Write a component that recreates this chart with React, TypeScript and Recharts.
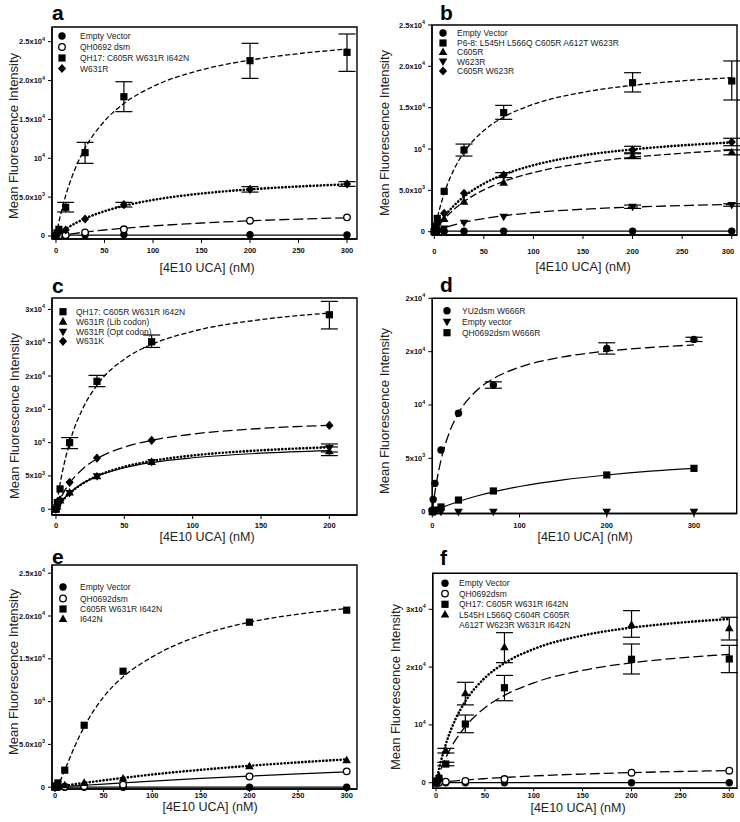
import React from 'react';
import { ComposedChart, Line, Scatter, XAxis, YAxis, ErrorBar, ReferenceArea } from 'recharts';

const FONT = '"Liberation Sans", Arial, Helvetica, sans-serif';

type Kind = 'circle' | 'open' | 'square' | 'triangle' | 'invtri' | 'diamond';
type N = number | null;

// ---------- Panel a ----------
const aConc = [0, 1, 3, 10, 30, 70, 200, 300];
const aEmpty = [0, 30, 50, 80, 120, 180, 170, 130];
const aQH0692 = [0, 40, 80, 130, 470, 860, 1970, 2400];
const aQH17 = [0, 400, 860, 3690, 10720, 17920, 22560, 23630];
const aQH17Lo: N[] = [null, null, null, 600, 1370, 1920, 2280, 2450];
const aQH17Hi: N[] = [null, null, null, 640, 1330, 1930, 2230, 2360];
const aW631R = [0, 250, 560, 770, 2190, 4030, 6000, 6690];
const aW631RErr: N[] = [null, null, null, null, null, 300, 350, 300];
const fitX = [0, 2, 5, 10, 20, 30, 50, 70, 100, 150, 200, 250, 300];
const aQH17Fit = [0, 1220, 2860, 5190, 8730, 11300, 14780, 17040, 19230, 21370, 22630, 23460, 24050];
const aW631RFit = [0, 200, 480, 910, 1640, 2250, 3190, 3880, 4640, 5460, 6000, 6370, 6650];
const aQH0692Fit = [0, 40, 95, 180, 350, 500, 770, 1000, 1290, 1670, 1950, 2170, 2350];
const aEmptyFitX = [0, 300];
const aEmptyFit = [100, 110];

// ---------- Panel b ----------
const bConc = [0, 1, 3, 10, 30, 70, 200, 300];
const bEmpty = [0, 20, 40, 60, 60, 70, 70, 70];
const bP68 = [0, 700, 1610, 4880, 9880, 14400, 18020, 18230];
const bP68Lo: N[] = [null, null, null, null, 730, 810, 1120, 2300];
const bP68Hi: N[] = [null, null, null, null, 720, 880, 1210, 2420];
const bC605R = [0, 200, 600, 1530, 3630, 5930, 9190, 9600];
const bC605RErr: N[] = [null, null, null, null, null, null, 350, 300];
const bW623R = [0, 60, 150, 400, 1090, 1810, 3020, 3230];
const bW623RErr: N[] = [null, null, null, null, null, null, 200, 150];
const bDouble = [0, 300, 900, 2220, 4640, 6850, 9880, 10850];
const bDoubleErr: N[] = [null, null, null, null, null, 300, 450, 450];
const bP68Fit = [0, 1120, 2600, 4620, 7560, 9600, 12240, 13870, 15410, 16860, 17700, 18250, 18630];
const bDoubleFit = [0, 410, 970, 1810, 3180, 4250, 5820, 6910, 8040, 9230, 9950, 10440, 10800];
const bC605RFit = [0, 340, 810, 1520, 2700, 3645, 5060, 6075, 7150, 8280, 9000, 9490, 9860];
const bW623RFit = [0, 100, 240, 455, 820, 1125, 1590, 1930, 2310, 2720, 2980, 3160, 3300];
const bEmptyFitX = [0, 300];
const bEmptyFit = [60, 70];

// ---------- Panel c ----------
const cConc = [0, 1, 3, 10, 30, 70, 200];
const cQH17 = [0, 1000, 3050, 10000, 19200, 25150, 29200];
const cQH17Lo: N[] = [null, null, null, 900, 800, 860, 2130];
const cQH17Hi: N[] = [null, null, null, 760, 900, 1010, 2010];
const cLib = [0, 400, 1300, 2500, 4950, 7100, 8700];
const cLibErr: N[] = [null, null, null, null, null, null, 650];
const cOpt = [0, 350, 1200, 2450, 4950, 7100, 9200];
const cOptErr: N[] = [null, null, null, null, null, null, 600];
const cW631K = [0, 500, 1400, 4040, 7680, 10350, 12580];
const cFitX = [0, 1, 2, 5, 10, 20, 30, 50, 70, 100, 150, 200];
const cQH17Fit = [0, 1380, 2650, 5900, 10000, 15290, 18640, 22530, 24740, 26710, 28470, 29450];
const cW631KFit = [0, 520, 1000, 2270, 3910, 6130, 7580, 9330, 10350, 11280, 12130, 12600];
const cLibFit = [0, 310, 600, 1380, 2430, 3930, 4940, 6230, 7010, 7730, 8410, 8800];
const cOptFit = [0, 300, 580, 1340, 2390, 3920, 4990, 6380, 7250, 8070, 8850, 9300];

// ---------- Panel d ----------
const dConc = [0, 1, 3, 10, 30, 70, 200, 300];
const dYU2 = [150, 1150, 2650, 5780, 9220, 11870, 15300, 16150];
const dYU2Err: N[] = [null, null, null, null, null, 300, 530, 200];
const dEmpty = [0, 0, 0, 0, 0, 0, 0, 0];
const dQH0692 = [0, 50, 150, 440, 1090, 1940, 3440, 4060];
const dYU2FitX = [0, 1, 2, 3, 5, 10, 20, 30, 50, 70, 100, 150, 200, 250, 300];
const dYU2Fit = [0, 650, 1250, 1810, 2820, 4840, 7520, 9230, 11290, 12470, 13540, 14510, 15050, 15390, 15630];
const dQHFitX = [0, 5, 10, 20, 30, 50, 70, 100, 150, 200, 250, 300];
const dQHFit = [0, 180, 355, 670, 960, 1450, 1860, 2360, 2990, 3440, 3800, 4060];

// ---------- Panel e ----------
const eConc = [0, 1, 3, 10, 30, 70, 200, 300];
const eEmpty = [0, 0, 0, 0, 0, 0, 0, 0];
const eQH0692 = [0, 10, 30, 60, 100, 300, 1250, 1850];
const eTriple = [0, 150, 500, 1990, 7240, 13550, 19280, 20680];
const eI642N = [0, 60, 120, 230, 500, 1010, 2450, 3150];
const eFitX = [0, 5, 10, 20, 30, 50, 70, 100, 150, 200, 250, 300];
const eTripleFit = [0, 700, 2000, 4700, 7050, 10550, 12890, 15220, 17760, 19280, 20210, 20870];
const eI642NFit = [0, 80, 170, 340, 500, 800, 1080, 1480, 2030, 2500, 2900, 3250];
const eQH0692Fit = [0, 40, 77, 150, 227, 370, 510, 710, 1020, 1300, 1560, 1800];
const eEmptyFitX = [0, 300];
const eEmptyFit = [10, 10];

// ---------- Panel f ----------
const fConc = [0, 1, 3, 10, 30, 70, 200, 300];
const fEmpty = [0, 0, 0, 0, 0, 0, 0, 0];
const fQH0692 = [0, 20, 50, 170, 290, 630, 1730, 2080];
const fQH17 = [0, 300, 750, 3230, 10150, 16430, 21350, 21410];
const fQH17Lo: N[] = [null, null, null, 300, 1500, 2250, 2540, 2370];
const fQH17Hi: N[] = [null, null, null, 300, 1560, 2130, 2650, 2360];
const fMulti = [0, 400, 1150, 5540, 15460, 23430, 27300, 26730];
const fMultiLo: N[] = [null, null, null, 400, 2000, 2660, 2140, 2040];
const fMultiHi: N[] = [null, null, null, 400, 1910, 2530, 2470, 1890];
const fMultiFit = [0, 1600, 3690, 6650, 11010, 14080, 18140, 20690, 23130, 25470, 26820, 27690, 28330];
const fQH17Fit = [0, 1000, 2360, 4320, 7410, 9720, 12960, 15120, 17280, 19440, 20740, 21600, 22220];
const fQH0692Fit = [0, 35, 85, 170, 320, 460, 700, 910, 1170, 1500, 1750, 1940, 2100];
const fEmptyFitX = [0, 300];
const fEmptyFit = [10, 10];

// ---------- ticks ----------
const x300Ticks = [0, 50, 100, 150, 200, 250, 300];
const x200Ticks = [0, 50, 100, 150, 200];
const dXTicks = [0, 100, 200, 300];
const y25Ticks = [0, 5000, 10000, 15000, 20000, 25000];
const y25Labels = ['0', '5.0x10^3', '10^4', '1.5x10^4', '2.0x10^4', '2.5x10^4'];
const cYTicks = [0, 5000, 10000, 15000, 20000, 25000, 30000];
const cYLabels = ['0', '5x10^3', '10^4', '2x10^4', '2x10^4', '3x10^4', '3x10^4'];
const dYTicks = [0, 5000, 10000, 15000, 20000];
const dYLabels = ['0', '5x10^3', '10^4', '2x10^4', '2x10^4'];
const fYTicks = [0, 10000, 20000, 30000];
const fYLabels = ['0', '10^4', '2x10^4', '3x10^4'];

const pts = (xs: number[], ys: number[]) => xs.map((x, i) => ({ x, y: ys[i] }));
const ptsErr = (xs: number[], ys: number[], lo?: N[], hi?: N[]) =>
  xs.map((x, i) => {
    const l = lo ? lo[i] : null;
    const h = hi ? hi[i] : l;
    return { x, y: ys[i], err: l != null ? [l, h != null ? h : l] : undefined };
  });

function Marker({ cx, cy, kind }: { cx: number; cy: number; kind: Kind }) {
  if (cx == null || cy == null) return null;
  switch (kind) {
    case 'circle':
      return <circle cx={cx} cy={cy} r={3.7} fill="#000" />;
    case 'open':
      return <circle cx={cx} cy={cy} r={3.3} fill="#fff" stroke="#000" strokeWidth={1.3} />;
    case 'square':
      return <rect x={cx - 3.6} y={cy - 3.6} width={7.2} height={7.2} fill="#000" />;
    case 'triangle':
      return <polygon points={`${cx},${cy - 4.6} ${cx + 4.3},${cy + 3} ${cx - 4.3},${cy + 3}`} fill="#000" />;
    case 'invtri':
      return <polygon points={`${cx},${cy + 4.6} ${cx + 4.3},${cy - 3} ${cx - 4.3},${cy - 3}`} fill="#000" />;
    case 'diamond':
      return <polygon points={`${cx},${cy - 4.6} ${cx + 4.1},${cy} ${cx},${cy + 4.6} ${cx - 4.1},${cy}`} fill="#000" />;
  }
  return null;
}

function SupText({ x, y, text, anchor, size = 7.5 }: { x: number; y: number; text: string; anchor: string; size?: number }) {
  const [b, e] = text.split('^');
  return (
    <text x={x} y={y} textAnchor={anchor as any} dominantBaseline="central" fontFamily={FONT} fontSize={size} fontWeight="bold" fill="#111">
      {b}
      {e ? (
        <tspan fontSize={size * 0.72} dy={-3}>
          {e}
        </tspan>
      ) : null}
    </text>
  );
}

type Dash = 'solid' | 'short' | 'medium' | 'long' | 'dot';
const dashStyle = (d: Dash) => {
  switch (d) {
    case 'solid':
      return { strokeWidth: 1.2 };
    case 'short':
      return { strokeDasharray: '5 2.5', strokeWidth: 1.3 };
    case 'medium':
      return { strokeDasharray: '7 3', strokeWidth: 1.3 };
    case 'long':
      return { strokeDasharray: '10 4', strokeWidth: 1.3 };
    case 'dot':
      return { strokeDasharray: '0.1 3.4', strokeWidth: 2.6, strokeLinecap: 'round' as const };
  }
};

interface Series {
  name: string;
  name2?: string;
  kind: Kind;
  points: { x: number; y: number; err?: number[] }[];
  fit?: { x: number; y: number }[];
  dash: Dash;
}

interface Panel {
  id: string;
  left: number;
  top: number;
  width: number;
  height: number;
  margin: { top: number; right: number; bottom: number; left: number };
  xDomain: [number, number];
  xTicks: number[];
  yDomain: [number, number];
  yTicks: number[];
  yLabels: string[];
  xTickGap: number;
  series: Series[];
  legend: { mx: number; tx: number; ys: number[] };
  letter: [number, number];
  yTitle: [number, number];
  xTitle: [number, number];
}

const panels: Panel[] = [
  {
    id: 'a', left: 0, top: 0, width: 370, height: 275,
    margin: { top: 27, right: 13, bottom: 6, left: 12 },
    xDomain: [-4.1, 310.3], xTicks: x300Ticks,
    yDomain: [-386, 26890], yTicks: y25Ticks, yLabels: y25Labels, xTickGap: 11.7,
    series: [
      { name: 'Empty Vector', kind: 'circle', points: ptsErr(aConc, aEmpty), fit: pts(aEmptyFitX, aEmptyFit), dash: 'solid' },
      { name: 'QH0692 dsm', kind: 'open', points: ptsErr(aConc, aQH0692), fit: pts(fitX, aQH0692Fit), dash: 'long' },
      { name: 'QH17: C605R W631R I642N', kind: 'square', points: ptsErr(aConc, aQH17, aQH17Lo, aQH17Hi), fit: pts(fitX, aQH17Fit), dash: 'short' },
      { name: 'W631R', kind: 'diamond', points: ptsErr(aConc, aW631R, aW631RErr), fit: pts(fitX, aW631RFit), dash: 'dot' },
    ],
    legend: { mx: 62, tx: 80, ys: [36, 47, 58, 68.5] },
    letter: [52, 20], yTitle: [13, 136], xTitle: [207, 268],
  },
  {
    id: 'b', left: 370, top: 0, width: 370, height: 275,
    margin: { top: 25, right: 3, bottom: 10, left: 22 },
    xDomain: [-2.3, 305.3], xTicks: x300Ticks,
    yDomain: [-399, 25000], yTicks: y25Ticks, yLabels: y25Labels, xTickGap: 16,
    series: [
      { name: 'Empty Vector', kind: 'circle', points: ptsErr(bConc, bEmpty), fit: pts(bEmptyFitX, bEmptyFit), dash: 'solid' },
      { name: 'P6-8: L545H L566Q C605R A612T W623R', kind: 'square', points: ptsErr(bConc, bP68, bP68Lo, bP68Hi), fit: pts(fitX, bP68Fit), dash: 'short' },
      { name: 'C605R', kind: 'triangle', points: ptsErr(bConc, bC605R, bC605RErr), fit: pts(fitX, bC605RFit), dash: 'medium' },
      { name: 'W623R', kind: 'invtri', points: ptsErr(bConc, bW623R, bW623RErr), fit: pts(fitX, bW623RFit), dash: 'long' },
      { name: 'C605R W623R', kind: 'diamond', points: ptsErr(bConc, bDouble, bDoubleErr), fit: pts(fitX, bDoubleFit), dash: 'dot' },
    ],
    legend: { mx: 443, tx: 457, ys: [33, 43, 52, 61.5, 71] },
    letter: [440, 20], yTitle: [384, 133], xTitle: [583, 267],
  },
  {
    id: 'c', left: 0, top: 270, width: 370, height: 275,
    margin: { top: 28, right: 13, bottom: 0, left: 12 },
    xDomain: [-2.9, 220.2], xTicks: x200Ticks,
    yDomain: [-865, 31715], yTicks: cYTicks, yLabels: cYLabels, xTickGap: 10.5,
    series: [
      { name: 'QH17: C605R W631R I642N', kind: 'square', points: ptsErr(cConc, cQH17, cQH17Lo, cQH17Hi), fit: pts(cFitX, cQH17Fit), dash: 'short' },
      { name: 'W631R (Lib codon)', kind: 'triangle', points: ptsErr(cConc, cLib, cLibErr), fit: pts(cFitX, cLibFit), dash: 'solid' },
      { name: 'W631R (Opt codon)', kind: 'invtri', points: ptsErr(cConc, cOpt, cOptErr), fit: pts(cFitX, cOptFit), dash: 'dot' },
      { name: 'W631K', kind: 'diamond', points: ptsErr(cConc, cW631K), fit: pts(cFitX, cW631KFit), dash: 'long' },
    ],
    legend: { mx: 63, tx: 76, ys: [311.7, 321.7, 331.7, 341.3] },
    letter: [52, 293], yTitle: [14, 416], xTitle: [207, 537],
  },
  {
    id: 'd', left: 370, top: 270, width: 370, height: 275,
    margin: { top: 28.3, right: 3.3, bottom: 1.5, left: 22.3 },
    xDomain: [0, 349], xTicks: dXTicks,
    yDomain: [-170, 20000], yTicks: dYTicks, yLabels: dYLabels, xTickGap: 11.5,
    series: [
      { name: 'YU2dsm W666R', kind: 'circle', points: ptsErr(dConc, dYU2, dYU2Err), fit: pts(dYU2FitX, dYU2Fit), dash: 'long' },
      { name: 'Empty vector', kind: 'invtri', points: ptsErr(dConc, dEmpty), dash: 'solid' },
      { name: 'QH0692dsm W666R', kind: 'square', points: ptsErr(dConc, dQH0692), fit: pts(dQHFitX, dQHFit), dash: 'solid' },
    ],
    legend: { mx: 447, tx: 462, ys: [310.7, 321.7, 332.7] },
    letter: [440, 292], yTitle: [384, 411], xTitle: [585, 537],
  },
  {
    id: 'e', left: 0, top: 540, width: 370, height: 282,
    margin: { top: 25, right: 13, bottom: 3, left: 12 },
    xDomain: [-3.1, 310.6], xTicks: x300Ticks,
    yDomain: [-210, 25960], yTicks: y25Ticks, yLabels: y25Labels, xTickGap: 6,
    series: [
      { name: 'Empty Vector', kind: 'circle', points: ptsErr(eConc, eEmpty), fit: pts(eEmptyFitX, eEmptyFit), dash: 'solid' },
      { name: 'QH0692dsm', kind: 'open', points: ptsErr(eConc, eQH0692), fit: pts(eFitX, eQH0692Fit), dash: 'solid' },
      { name: 'C605R W631R I642N', kind: 'square', points: ptsErr(eConc, eTriple), fit: pts(eFitX, eTripleFit), dash: 'short' },
      { name: 'I642N', kind: 'triangle', points: ptsErr(eConc, eI642N), fit: pts(eFitX, eI642NFit), dash: 'dot' },
    ],
    legend: { mx: 63, tx: 80, ys: [587, 598.5, 609, 619] },
    letter: [52, 564], yTitle: [13, 672], xTitle: [210, 807],
  },
  {
    id: 'f', left: 370, top: 540, width: 370, height: 282,
    margin: { top: 33.3, right: 3, bottom: 3.7, left: 22.7 },
    xDomain: [-3.4, 307.9], xTicks: x300Ticks,
    yDomain: [-969, 36230], yTicks: fYTicks, yLabels: fYLabels, xTickGap: 7,
    series: [
      { name: 'Empty Vector', kind: 'circle', points: ptsErr(fConc, fEmpty), fit: pts(fEmptyFitX, fEmptyFit), dash: 'solid' },
      { name: 'QH0692dsm', kind: 'open', points: ptsErr(fConc, fQH0692), fit: pts(fitX, fQH0692Fit), dash: 'long' },
      { name: 'QH17: C605R W631R I642N', kind: 'square', points: ptsErr(fConc, fQH17, fQH17Lo, fQH17Hi), fit: pts(fitX, fQH17Fit), dash: 'long' },
      { name: 'L545H L566Q C604R C605R', name2: 'A612T W623R W631R I642N', kind: 'triangle', points: ptsErr(fConc, fMulti, fMultiLo, fMultiHi), fit: pts(fitX, fMultiFit), dash: 'dot' },
    ],
    legend: { mx: 445, tx: 459, ys: [583.3, 593.6, 604.3, 614.5] },
    letter: [440, 565], yTitle: [395, 687], xTitle: [578, 808],
  },
];

function PanelChart({ p }: { p: Panel }) {
  const labelOf = (v: number) => {
    const i = p.yTicks.indexOf(v);
    return i >= 0 ? p.yLabels[i] : String(v);
  };
  const tickSize = p.xTickGap < 8 ? 3 : 4;
  return (
    <div style={{ position: 'absolute', left: p.left, top: p.top, width: p.width, height: p.height }}>
      <ComposedChart width={p.width} height={p.height} margin={p.margin}>
        <XAxis
          type="number"
          dataKey="x"
          domain={p.xDomain}
          ticks={p.xTicks}
          height={30}
          tickSize={tickSize}
          tickMargin={0}
          stroke="#000"
          axisLine={{ stroke: '#000', strokeWidth: 1.4 }}
          tickLine={{ stroke: '#000', strokeWidth: 1 }}
          tick={(t: any) => <SupText x={t.x} y={t.y + (p.xTickGap - tickSize)} text={String(t.payload.value)} anchor="middle" />}
        />
        <YAxis
          type="number"
          dataKey="y"
          domain={p.yDomain}
          ticks={p.yTicks}
          width={40}
          tickSize={4}
          tickMargin={3}
          axisLine={{ stroke: '#000', strokeWidth: 1.4 }}
          tickLine={{ stroke: '#000', strokeWidth: 1 }}
          tick={(t: any) => <SupText x={t.x} y={t.y} text={labelOf(t.payload.value)} anchor="end" />}
        />
        <ReferenceArea
          x1={p.xDomain[0]}
          x2={p.xDomain[1]}
          y1={p.yDomain[0]}
          y2={p.yDomain[1]}
          fill="none"
          fillOpacity={0}
          stroke="#000"
          strokeWidth={1.4}
          ifOverflow="visible"
        />
        {p.series.map((s) =>
          s.fit ? (
            <Line
              key={'fit-' + s.name}
              data={s.fit}
              dataKey="y"
              type="monotone"
              stroke="#000"
              dot={false}
              activeDot={false}
              isAnimationActive={false}
              {...(dashStyle(s.dash) as any)}
            />
          ) : null
        )}
        {p.series.map((s) => (
          <Scatter
            key={'pts-' + s.name}
            data={s.points}
            dataKey="y"
            isAnimationActive={false}
            shape={(sp: any) => <Marker cx={sp.cx} cy={sp.cy} kind={s.kind} />}
          >
            <ErrorBar dataKey="err" direction="y" width={8.5} stroke="#000" strokeWidth={1.2} />
          </Scatter>
        ))}
      </ComposedChart>
    </div>
  );
}

function Overlay() {
  return (
    <svg width={740} height={822} style={{ position: 'absolute', left: 0, top: 0, pointerEvents: 'none' }}>
      {panels.map((p) => (
        <g key={'ov-' + p.id}>
          <text x={p.letter[0]} y={p.letter[1]} fontFamily={FONT} fontSize={21} fontWeight="bold" fill="#000">
            {p.id}
          </text>
          <text
            x={p.yTitle[0]}
            y={p.yTitle[1]}
            transform={`rotate(-90 ${p.yTitle[0]} ${p.yTitle[1]})`}
            textAnchor="middle"
            dominantBaseline="central"
            fontFamily={FONT}
            fontSize={13}
            fill="#222"
          >
            Mean Fluorescence Intensity
          </text>
          <text x={p.xTitle[0]} y={p.xTitle[1]} textAnchor="middle" dominantBaseline="central" fontFamily={FONT} fontSize={12.5} fill="#222">
            [4E10 UCA] (nM)
          </text>
          {p.series.map((s, i) => (
            <g key={'lg-' + s.name}>
              <Marker cx={p.legend.mx} cy={p.legend.ys[i]} kind={s.kind} />
              <text x={p.legend.tx} y={p.legend.ys[i]} dominantBaseline="central" fontFamily={FONT} fontSize={8.5} fill="#222">
                {s.name}
              </text>
              {s.name2 ? (
                <text x={p.legend.tx} y={p.legend.ys[i] + 10.5} dominantBaseline="central" fontFamily={FONT} fontSize={8.5} fill="#222">
                  {s.name2}
                </text>
              ) : null}
            </g>
          ))}
        </g>
      ))}
    </svg>
  );
}

export default function App() {
  return (
    <div style={{ position: 'absolute', left: 0, top: 0, width: 740, height: 822, background: '#fff', overflow: 'hidden' }}>
      {panels.map((p) => (
        <PanelChart key={p.id} p={p} />
      ))}
      <Overlay />
    </div>
  );
}
